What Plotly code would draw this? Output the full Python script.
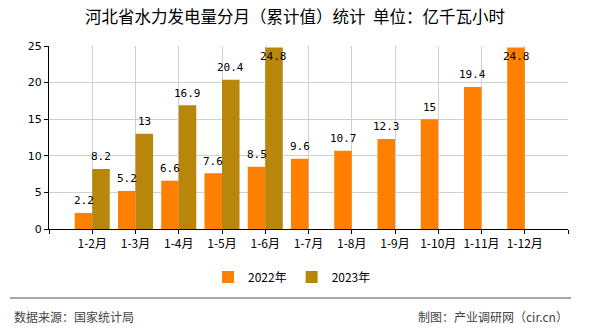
import plotly.graph_objects as go

categories = ["1-2月", "1-3月", "1-4月", "1-5月", "1-6月", "1-7月", "1-8月", "1-9月", "1-10月", "1-11月", "1-12月"]
values_2022 = [2.2, 5.2, 6.6, 7.6, 8.5, 9.6, 10.7, 12.3, 15, 19.4, 24.8]
values_2023 = [8.2, 13, 16.9, 20.4, 24.8, None, None, None, None, None, None]
series_names = ["2022年", "2023年"]
colors = ["#ff8000", "#b8860b"]
y_ticks = [0, 5, 10, 15, 20, 25]

W, H = 590, 330
L, R, T, B = 49, 568, 46, 229  # plot area pixels


def px_x(p):
    return (p - L) / (R - L)


def px_y(p):
    return (B - p) / (B - T)


idx = list(range(len(categories)))
fig = go.Figure()
for name, vals, col in zip(series_names, [values_2022, values_2023], colors):
    fig.add_trace(go.Bar(x=idx, y=vals, name=name, marker=dict(color=col, line=dict(width=0)),
                         hoverinfo="skip"))

label_font = dict(family="DejaVu Sans Mono", size=11, color="#000")
offsets = [-0.2, 0.2]
for off, vals in zip(offsets, [values_2022, values_2023]):
    for i, v in zip(idx, vals):
        if v is None:
            continue
        near_top = v > 23.5
        fig.add_annotation(x=i + off, y=v, xref="x", yref="y", text=f"{v:g}",
                           showarrow=False, font=label_font,
                           yshift=-9 if near_top else 12, yanchor="middle")

tickvals = [-1] + idx + [len(categories)]
ticktext = [""] + categories + [""]

fig.update_layout(
    width=W, height=H,
    margin=dict(l=L, r=W - R, t=T, b=H - B, pad=0),
    paper_bgcolor="white", plot_bgcolor="white",
    barmode="group", bargap=0.19, bargroupgap=0,
    font=dict(family="Noto Sans CJK SC", size=12, color="#000"),
    title=dict(text="河北省水力发电量分月（累计值）统计\u00a0\u00a0单位：亿千瓦小时",
               x=0.5, xref="container", xanchor="center",
               y=1 - 17 / H, yref="container", yanchor="middle",
               font=dict(family="Noto Sans CJK SC", size=16.5, color="#000")),
    showlegend=True,
    legend=dict(orientation="h", x=px_x(292), xanchor="center", y=px_y(277), yanchor="middle",
                font=dict(size=12, color="#000"), itemwidth=30, traceorder="normal",
                bgcolor="rgba(0,0,0,0)"),
    xaxis=dict(range=[-1, len(categories)], tickmode="array", tickvals=tickvals, ticktext=ticktext,
               showgrid=True, gridcolor="#d0d0d0", gridwidth=1,
               showline=True, linecolor="#000", linewidth=1,
               ticks="outside", ticklen=4, tickcolor="#000",
               tickfont=dict(size=12, color="#000"), zeroline=False, fixedrange=True),
    yaxis=dict(range=[0, 25], tickmode="array", tickvals=y_ticks,
               showgrid=True, gridcolor="#d0d0d0", gridwidth=1,
               showline=True, linecolor="#000", linewidth=1,
               ticks="outside", ticklen=4, tickcolor="#000",
               tickfont=dict(family="DejaVu Sans", size=11, color="#000"), zeroline=False, fixedrange=True),
)

fig.add_shape(type="line", xref="paper", yref="paper",
              x0=px_x(10), x1=px_x(571), y0=px_y(298), y1=px_y(298),
              line=dict(color="#888", width=1.5))
fig.add_annotation(xref="paper", yref="paper", x=px_x(12), y=px_y(316), xanchor="left", yanchor="middle",
                   text="数据来源：国家统计局", showarrow=False,
                   font=dict(family="Noto Sans CJK SC", size=12, color="#444"))
fig.add_annotation(xref="paper", yref="paper", x=px_x(570), y=px_y(316), xanchor="right", yanchor="middle",
                   text="制图：产业调研网（cir.cn）", showarrow=False,
                   font=dict(family="Noto Sans CJK SC", size=12, color="#444"))

fig.write_html("out.html")
